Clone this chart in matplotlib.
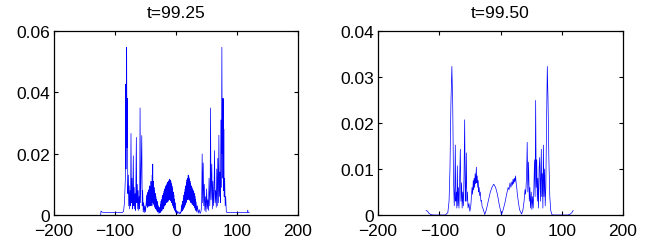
import matplotlib
matplotlib.use('Agg')
import matplotlib.pyplot as plt

plt.rcParams['font.family'] = ['Liberation Sans', 'DejaVu Sans']

titles = ['t=99.25', 't=99.50']
x_ticks = [-200, -100, 0, 100, 200]
y_ticks_left = [0, 0.02, 0.04, 0.06]
y_labels_left = ['0', '0.02', '0.04', '0.06']
y_ticks_right = [0, 0.01, 0.02, 0.03, 0.04]
y_labels_right = ['0', '0.01', '0.02', '0.03', '0.04']

# t=99.25, (x, y); dense bands typed as zigzags
left_pts = [
    (-123.5, 0.0), (-123, 0.0013), (-121, 0.0009), (-110, 0.0008), (-100, 0.0008), (-88, 0.0008),
    (-86, 0.0012), (-84.5, 0.004), (-83, 0.012), (-82.5, 0.0427), (-82, 0.015), (-81.5, 0.03),
    (-80.9, 0.0547), (-80.4, 0.022), (-79.8, 0.038), (-79, 0.007), (-78.2, 0.013), (-77.5, 0.003),
    (-76.8, 0.0095), (-76, 0.002), (-75.2, 0.008), (-74.5, 0.003), (-73.8, 0.0266), (-73, 0.004),
    (-72.2, 0.012), (-71.5, 0.002), (-70.8, 0.008), (-70, 0.0193), (-69.3, 0.003), (-68.5, 0.009),
    (-67.8, 0.002), (-67, 0.007), (-66.2, 0.0015), (-65, 0.0253), (-64.3, 0.004), (-63.5, 0.01),
    (-62.8, 0.002), (-62, 0.008), (-61.2, 0.0015), (-60.4, 0.006), (-59.6, 0.002), (-58.9, 0.0349),
    (-58.2, 0.004), (-57.4, 0.012), (-56.1, 0.0259), (-55.4, 0.003), (-54.6, 0.008), (-53.8, 0.001),
    (-53, 0.004), (-52, 0.0008), (-51, 0.003), (-50, 0.001), (-49, 0.004),
    (-48, 0.0065), (-47.5, 0.003), (-47, 0.007), (-46.5, 0.0025), (-46, 0.0075), (-45.5, 0.003),
    (-45, 0.008), (-44.5, 0.0028), (-44, 0.0085), (-43.5, 0.003), (-43, 0.0095), (-42.5, 0.0035),
    (-42, 0.009), (-41.5, 0.003), (-41, 0.011), (-40.5, 0.004), (-40, 0.0095), (-39.5, 0.003),
    (-39, 0.013), (-38.6, 0.004), (-38.1, 0.0166), (-37.6, 0.004), (-37, 0.011), (-36.5, 0.0035),
    (-36, 0.009), (-35.5, 0.003), (-35, 0.008), (-34.5, 0.0025), (-34, 0.007), (-33.5, 0.002),
    (-33, 0.006), (-32.5, 0.002), (-32, 0.005), (-31.5, 0.0015), (-31, 0.0045), (-30.5, 0.001),
    (-30, 0.004), (-29.5, 0.001), (-29, 0.003), (-28, 0.0005),
    (-27, 0.001), (-26.5, 0.0025), (-26, 0.0008), (-25.5, 0.0035), (-25, 0.001), (-24.5, 0.0045),
    (-24, 0.0013), (-23.5, 0.005), (-23, 0.0015), (-22.5, 0.006), (-22, 0.002), (-21.5, 0.0065),
    (-21, 0.002), (-20.5, 0.007), (-20, 0.0025), (-19.5, 0.0078), (-19, 0.003), (-18.5, 0.0085),
    (-18, 0.0032), (-17.5, 0.009), (-17, 0.0035), (-16.5, 0.0095), (-16, 0.004), (-15.5, 0.0098),
    (-15, 0.004), (-14.5, 0.0103), (-14, 0.0045), (-13.5, 0.0107), (-13, 0.0045), (-12.5, 0.011),
    (-12, 0.005), (-11.5, 0.0112), (-11, 0.005), (-10.5, 0.0117), (-10, 0.005), (-9.5, 0.0114),
    (-9, 0.0048), (-8.5, 0.011), (-8, 0.0045), (-7.5, 0.0102), (-7, 0.004), (-6.5, 0.0094),
    (-6, 0.0035), (-5.5, 0.0085), (-5, 0.003), (-4.5, 0.0075), (-4, 0.0025), (-3.5, 0.0065),
    (-3, 0.002), (-2.5, 0.0052), (-2, 0.0015), (-1.5, 0.004), (-1, 0.001), (-0.5, 0.0028),
    (0, 0.0007), (1, 0.0015), (2, 0.0004), (3, 0.0012), (4, 0.0008), (5.4, 0.0004), (6.5, 0.001),
    (7.5, 0.0005),
    (8.3, 0.0012), (9, 0.003), (9.5, 0.0012), (10, 0.0035), (10.5, 0.0015), (11, 0.0045),
    (11.5, 0.0018), (12, 0.0055), (12.5, 0.002), (13, 0.0065), (13.5, 0.0025), (14, 0.0075),
    (14.5, 0.003), (15, 0.0085), (15.5, 0.0035), (16, 0.0095), (16.5, 0.004), (17, 0.0105),
    (17.5, 0.0045), (18, 0.0115), (18.5, 0.005), (19, 0.012), (19.5, 0.005), (20, 0.013),
    (20.5, 0.0055), (21, 0.0125), (21.5, 0.005), (22, 0.0118), (22.5, 0.0048), (23, 0.011),
    (23.5, 0.0045), (24, 0.0102), (24.5, 0.004), (25, 0.0095), (25.5, 0.004), (26, 0.009),
    (26.5, 0.0035), (27, 0.0085), (27.5, 0.0035), (28, 0.008), (28.5, 0.003), (29, 0.0078),
    (29.5, 0.003), (30, 0.007), (30.5, 0.0025), (31, 0.0062), (31.5, 0.002), (32, 0.0052),
    (32.5, 0.0015), (33, 0.0042), (34, 0.001), (35, 0.003), (36.5, 0.0006), (38, 0.0018),
    (39.5, 0.0005), (41, 0.0012),
    (42, 0.003), (42.9, 0.0199), (43.7, 0.004), (44.6, 0.017), (45.5, 0.003), (46.4, 0.01),
    (47.3, 0.0015), (48.2, 0.006), (49.2, 0.001), (50.2, 0.0085), (51.2, 0.002), (52.2, 0.005),
    (53.2, 0.0015), (54.2, 0.012), (55.3, 0.003), (56, 0.008), (56.6, 0.0349), (57.4, 0.005),
    (58.7, 0.0166), (59.6, 0.002), (60.5, 0.011), (61.5, 0.003), (62.3, 0.008), (63.2, 0.021),
    (64, 0.004), (65, 0.008), (66, 0.0025), (66.8, 0.015), (67.7, 0.003), (68.5, 0.0185),
    (69.5, 0.004), (70.3, 0.026), (71.1, 0.006), (72, 0.014), (72.8, 0.004), (73.6, 0.031),
    (74.4, 0.009), (75.2, 0.0547), (75.8, 0.02), (76.4, 0.038), (76.9, 0.012), (77.4, 0.038),
    (77.9, 0.008), (78.4, 0.028), (79, 0.006), (79.8, 0.012), (80.6, 0.003), (81.5, 0.006),
    (82.5, 0.001), (84, 0.0008), (90, 0.0008), (100, 0.0008), (110, 0.0008), (117, 0.0008),
    (117.6, 0.0016), (118.2, 0.0008), (120, 0.0008),
]

# t=99.50, (x, y)
right_pts = [
    (-121.5, 0.001), (-119, 0.0008), (-117, 0.0004), (-114, 0.0001), (-110, 0.0), (-100, 0.0),
    (-90, 0.0), (-86, 0.0005), (-84, 0.003), (-82.5, 0.01), (-81, 0.024), (-79.4, 0.0323),
    (-78, 0.024), (-76.8, 0.008), (-75.5, 0.002), (-74.6, 0.006), (-73.8, 0.0152), (-73, 0.003),
    (-72.2, 0.005), (-71.3, 0.0015), (-70.5, 0.0107), (-69.6, 0.002), (-68.7, 0.006),
    (-67.8, 0.0015), (-66.7, 0.008), (-65.6, 0.0143), (-64.6, 0.003), (-63.6, 0.007),
    (-62.6, 0.0015), (-61.6, 0.005), (-60.6, 0.002), (-59.5, 0.009), (-58.5, 0.0207),
    (-57.5, 0.003), (-56.6, 0.006), (-55.8, 0.0135), (-55, 0.003), (-54, 0.005), (-53, 0.0015),
    (-51.5, 0.0025), (-50, 0.0008), (-48.5, 0.002), (-47.5, 0.004), (-46.5, 0.006),
    (-45.5, 0.0045), (-44.5, 0.0075), (-43.8, 0.0055), (-43, 0.008), (-42.2, 0.006),
    (-41.4, 0.009), (-40.6, 0.0068), (-39.8, 0.0095), (-39.4, 0.0104), (-38.8, 0.007),
    (-38, 0.0085), (-37.2, 0.006), (-36.4, 0.0075), (-35.6, 0.005), (-34.8, 0.006),
    (-34, 0.0042), (-33, 0.005), (-32, 0.003), (-31, 0.0032), (-30, 0.0018), (-28, 0.0012),
    (-25.7, 0.0001), (-23, 0.0012), (-20, 0.003), (-17, 0.0048), (-14, 0.006), (-11, 0.0067),
    (-8, 0.006), (-5, 0.0045), (-2, 0.0022), (1.6, 0.0001), (4, 0.001), (7, 0.0025), (10, 0.0045),
    (12.5, 0.006), (14, 0.0055), (15.5, 0.007), (17, 0.006), (18.5, 0.0072), (19.5, 0.0065),
    (20.5, 0.0078), (21.5, 0.0068), (22.5, 0.008), (23.5, 0.0072), (24.6, 0.0085), (25.5, 0.007),
    (26.5, 0.006), (27.5, 0.0045), (29, 0.003), (31, 0.0012), (34.4, 0.0002), (36.5, 0.001),
    (38.5, 0.003), (40, 0.0055), (41, 0.0045), (42.5, 0.008), (43.6, 0.0158), (44.6, 0.005),
    (45.8, 0.0115), (47, 0.003), (48, 0.006), (49, 0.0015), (50.2, 0.005), (51.2, 0.0012),
    (52.4, 0.004), (53.4, 0.0015), (54.5, 0.006), (55.5, 0.012), (56.5, 0.004), (57.4, 0.0249),
    (58.3, 0.006), (59.2, 0.012), (60.1, 0.003), (61, 0.008), (62, 0.0015), (63, 0.01),
    (64, 0.0125), (65.2, 0.003), (66.6, 0.0143), (67.4, 0.004), (68.2, 0.009), (69.2, 0.0015),
    (70, 0.0152), (71, 0.004), (72, 0.01), (73, 0.002), (74, 0.006), (75, 0.018), (76.4, 0.0323),
    (77.6, 0.025), (79, 0.012), (80.5, 0.004), (82, 0.001), (83.6, 0.0002), (85, 0.0), (90, 0.0),
    (100, 0.0), (110, 0.0), (114, 0.0002), (117, 0.0006), (118.6, 0.001),
]

fig = plt.figure(figsize=(6.54, 2.53), dpi=100)
ax1 = fig.add_axes([54 / 654, 37 / 253, 244 / 654, 184 / 253])
ax2 = fig.add_axes([378 / 654, 37 / 253, 245 / 654, 184 / 253])

panels = [(ax1, left_pts, y_ticks_left, y_labels_left, 0.06),
          (ax2, right_pts, y_ticks_right, y_labels_right, 0.04)]

for i, (ax, pts, yt, yl, ymax) in enumerate(panels):
    xs = [p[0] for p in pts]
    ys = [p[1] for p in pts]
    ax.plot(xs, ys, color='#0000ff', linewidth=0.5)
    ax.set_xlim(-200, 200)
    ax.set_ylim(0, ymax)
    ax.set_xticks(x_ticks)
    ax.set_xticklabels([str(v).replace('-', '\u2212') for v in x_ticks])
    ax.set_yticks(yt)
    ax.set_yticklabels(yl)
    ax.tick_params(direction='in', top=True, right=True, length=3, width=0.8,
                   labelsize=12.5)
    ax.tick_params(axis='y', pad=3)
    ax.tick_params(axis='x', pad=6)
    for s in ax.spines.values():
        s.set_linewidth(0.9)
    ax.set_title(titles[i], fontsize=12.5, pad=10)

fig.savefig('out.png', dpi=100)
